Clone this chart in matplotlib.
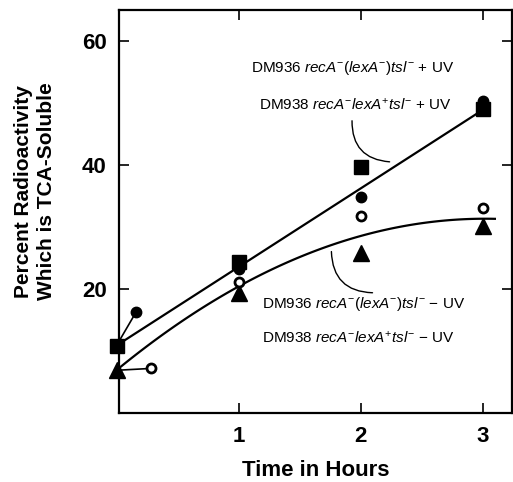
import numpy as np
import matplotlib.pyplot as plt

plt.rcParams['font.family'] = 'Liberation Sans'
plt.rcParams['mathtext.fontset'] = 'custom'
plt.rcParams['mathtext.rm'] = 'Liberation Sans'
plt.rcParams['mathtext.it'] = 'Liberation Sans:italic'

# time points (hours)
hours = [0, 1, 2, 3]
# DM938 recA- lexA+ tsl- + UV (filled squares)
sq_plus = [10.9, 24.3, 39.7, 49.1]
# DM936 recA- (lexA-) tsl- + UV (filled circles)
circ_plus = [16.3, 23.2, 34.9, 50.4]
# DM936 recA- (lexA-) tsl- - UV (open circles)
circ_minus = [7.2, 21.1, 31.8, 33.0]
# DM938 recA- lexA+ tsl- - UV (triangles)
tri_minus = [6.9, 19.4, 25.9, 30.2]

# fitted lines
upper_x = [0, 3.0]
upper_y = [10.9, 48.9]
lower_x = [0, 1, 2, 3, 3.1]
lower_y = [6.9, 20.5, 28.5, 31.3, 31.4]

# t=0 circles are drawn offset from the axis, joined by a short stalk
off_x = {'circ_plus': 0.16, 'circ_minus': 0.28}

fig = plt.figure(figsize=(5.13, 4.82), dpi=100)
ax = fig.add_axes([0.232, 0.143, 0.766, 0.836])

lw = 1.6
ax.plot(upper_x, upper_y, color='black', lw=lw, zorder=2)
coef = np.polyfit(lower_x, lower_y, 2)
xs = np.linspace(lower_x[0], lower_x[-1], 100)
ax.plot(xs, np.polyval(coef, xs), color='black', lw=lw, zorder=2)

# stalks for the offset t=0 points
ax.plot([hours[0], off_x['circ_plus']], [sq_plus[0], circ_plus[0]], color='black', lw=1.2, zorder=2)
ax.plot([hours[0], off_x['circ_minus']], [tri_minus[0], circ_minus[0]], color='black', lw=1.2, zorder=2)

ax.plot(hours, sq_plus, 's', color='black', ms=10, clip_on=False, zorder=3)
ax.plot([off_x['circ_plus']] + hours[1:], circ_plus, 'o', color='black', ms=7.5, clip_on=False, zorder=3)
ax.plot([off_x['circ_minus']] + hours[1:], circ_minus, 'o', mfc='white', mec='black', mew=2,
        ms=6.5, clip_on=False, zorder=4)
ax.plot(hours, tri_minus, '^', color='black', ms=12, clip_on=False, zorder=3)

ax.set_xlim(0.02, 3.24)
ax.set_ylim(0, 65)
ax.set_xticks([1, 2, 3])
ax.set_yticks([20, 40, 60])
ax.tick_params(direction='in', top=True, right=True, length=7, width=1.2, labelsize=16, pad=9)
for lab in ax.get_xticklabels() + ax.get_yticklabels():
    lab.set_fontweight('bold')
for s in ax.spines.values():
    s.set_linewidth(1.6)

ax.set_xlabel('Time in Hours', fontsize=16, fontweight='bold', labelpad=10)
ax.set_ylabel('Percent Radioactivity\nWhich is TCA-Soluble', fontsize=15, fontweight='bold',
              linespacing=1.3)
ax.yaxis.set_label_coords(-0.16, 0.55)

fs = 11
ax.text(1.10, 55.6, r'DM936 $recA^{-}(lexA^{-})tsl^{-}$ + UV', fontsize=fs, va='center')
ax.text(1.17, 49.8, r'DM938 $recA^{-}lexA^{+}tsl^{-}$ + UV', fontsize=fs, va='center')
ax.text(1.19, 17.6, r'DM936 $recA^{-}(lexA^{-})tsl^{-}$ $-$ UV', fontsize=fs, va='center')
ax.text(1.19, 12.2, r'DM938 $recA^{-}lexA^{+}tsl^{-}$ $-$ UV', fontsize=fs, va='center')

# curved leaders to the fitted lines
ax.annotate('', xy=(2.26, 40.5), xytext=(1.93, 47.6),
            arrowprops=dict(arrowstyle='-', lw=1.0, color='black',
                            connectionstyle='arc3,rad=0.5'))
ax.annotate('', xy=(1.76, 26.5), xytext=(2.12, 19.4),
            arrowprops=dict(arrowstyle='-', lw=1.0, color='black',
                            connectionstyle='arc3,rad=-0.5'))

fig.savefig('out.png', dpi=100)
